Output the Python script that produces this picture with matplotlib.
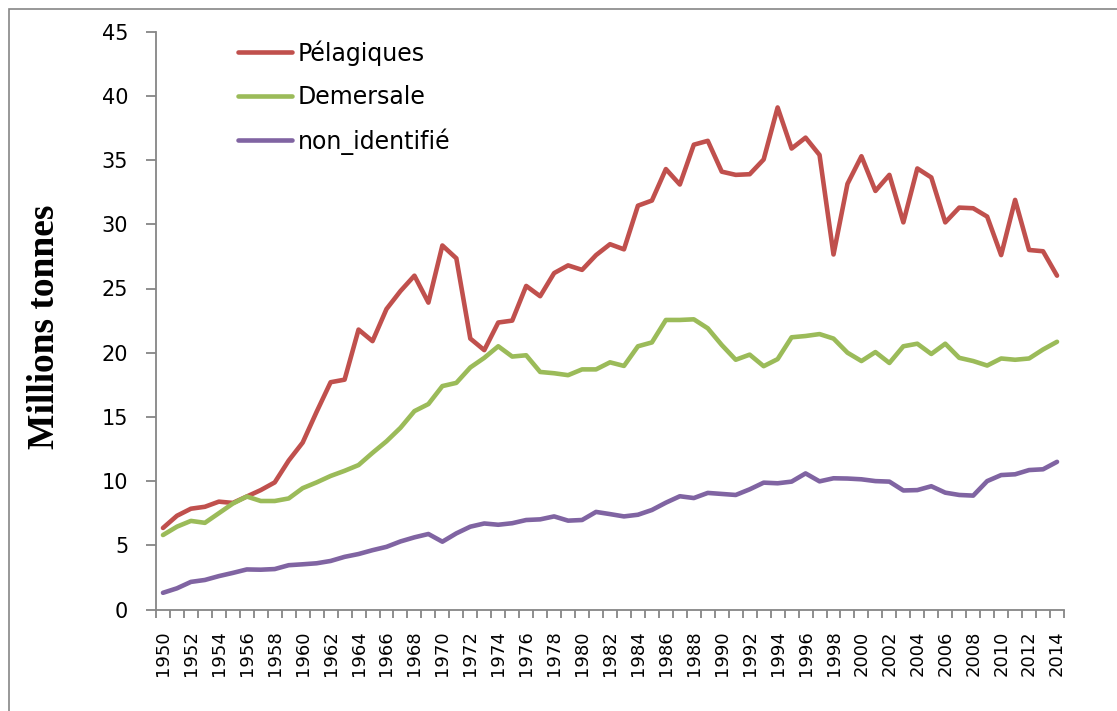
import matplotlib
matplotlib.use("Agg")
import matplotlib.pyplot as plt
from matplotlib.patches import Rectangle
import numpy as np

years = list(range(1950, 2015))

pelagiques = [6.35, 7.3, 7.85, 8.0, 8.4, 8.3, 8.8, 9.3, 9.9, 11.6,
              13.0, 15.4, 17.7, 17.9, 21.8, 20.9, 23.4, 24.8, 26.0, 23.9,
              28.35, 27.35, 21.1, 20.2, 22.35, 22.5, 25.2, 24.4, 26.2, 26.8,
              26.45, 27.6, 28.45, 28.05, 31.45, 31.85, 34.3, 33.1, 36.2, 36.5,
              34.1, 33.85, 33.9, 35.05, 39.1, 35.9, 36.75, 35.4, 27.65, 33.15,
              35.3, 32.6, 33.85, 30.15, 34.35, 33.65, 30.15, 31.3, 31.25, 30.6,
              27.6, 31.9, 28.0, 27.9, 26.0]

demersale = [5.8, 6.45, 6.9, 6.75, 7.5, 8.25, 8.8, 8.45, 8.45, 8.65,
             9.45, 9.9, 10.4, 10.8, 11.25, 12.2, 13.1, 14.15, 15.45, 16.0,
             17.4, 17.65, 18.85, 19.6, 20.5, 19.7, 19.8, 18.5, 18.4, 18.25,
             18.7, 18.7, 19.25, 18.97, 20.5, 20.8, 22.55, 22.55, 22.6, 21.9,
             20.6, 19.45, 19.85, 18.95, 19.5, 21.2, 21.3, 21.45, 21.1, 20.0,
             19.35, 20.05, 19.2, 20.5, 20.7, 19.9, 20.7, 19.6, 19.35, 19.0,
             19.55, 19.45, 19.55, 20.25, 20.85]

non_identifie = [1.3, 1.65, 2.15, 2.3, 2.6, 2.85, 3.12, 3.1, 3.15, 3.45,
                 3.52, 3.6, 3.78, 4.1, 4.32, 4.62, 4.88, 5.3, 5.62, 5.88,
                 5.28, 5.93, 6.45, 6.7, 6.6, 6.72, 6.97, 7.02, 7.25, 6.92,
                 6.97, 7.6, 7.43, 7.25, 7.38, 7.75, 8.32, 8.82, 8.68, 9.08,
                 9.0, 8.92, 9.36, 9.88, 9.83, 9.96, 10.6, 9.98, 10.22, 10.2,
                 10.14, 10.0, 9.96, 9.27, 9.3, 9.6, 9.1, 8.92, 8.87, 10.0,
                 10.47, 10.53, 10.86, 10.92, 11.5]

series_labels = ["Pélagiques", "Demersale", "non_identifié"]
colors = ["#C0504D", "#9BBB59", "#8064A2"]
y_ticks = [0, 5, 10, 15, 20, 25, 30, 35, 40, 45]
label_years = years[::2]

W, H = 1117, 711
fig = plt.figure(figsize=(W / 100, H / 100), dpi=100)
ax = fig.add_axes([156 / W, (H - 609.5) / H, 908 / W, 577.8 / H])

x = np.arange(len(years))
for vals, lab, c in zip([pelagiques, demersale, non_identifie], series_labels, colors):
    ax.plot(x, vals, color=c, lw=3.3, label=lab,
            solid_joinstyle="round", solid_capstyle="round")

ax.set_xlim(-0.5, len(years) - 0.5)
ax.set_ylim(0, 45)

axis_col = "#868686"
for s in ["top", "right"]:
    ax.spines[s].set_visible(False)
for s in ["left", "bottom"]:
    ax.spines[s].set_color(axis_col)
    ax.spines[s].set_linewidth(1.3)

ax.set_yticks(y_ticks)
ax.set_yticklabels([str(v) for v in y_ticks], fontsize=15, family="DejaVu Sans")
ax.tick_params(axis="y", direction="out", length=7, width=1.3, color=axis_col, pad=13)

# category boundaries as major ticks, labels at category centres
ax.set_xticks(np.arange(-0.5, len(years), 1.0))
ax.set_xticklabels([])
ax.tick_params(axis="x", which="major", direction="out", length=6, width=1.3, color=axis_col)
label_pos = [years.index(y) for y in label_years]
ax.set_xticks(label_pos, minor=True)
ax.set_xticklabels([str(y) for y in label_years], minor=True, rotation=90,
                   fontsize=13, family="DejaVu Sans")
ax.tick_params(axis="x", which="minor", length=0, pad=15)

fig.text(45 / W, 1 - 327 / H, "Millions tonnes", rotation=90, ha="center", va="center",
         fontsize=27, fontweight="bold", family="Liberation Serif")

leg = ax.legend(loc="upper left", bbox_to_anchor=(238 / W, 1 - 40 / H),
                bbox_transform=fig.transFigure, frameon=False, borderaxespad=0,
                borderpad=0, handlelength=2.3, handletextpad=0.22,
                labelspacing=0.82, prop={"family": "DejaVu Sans", "size": 17})

fig.patches.append(Rectangle((9 / W, -0.1), 1.2, 1 - 9 / H + 0.1, transform=fig.transFigure,
                             fill=False, edgecolor=axis_col, lw=1.2))

fig.savefig("out.png", dpi=100)
